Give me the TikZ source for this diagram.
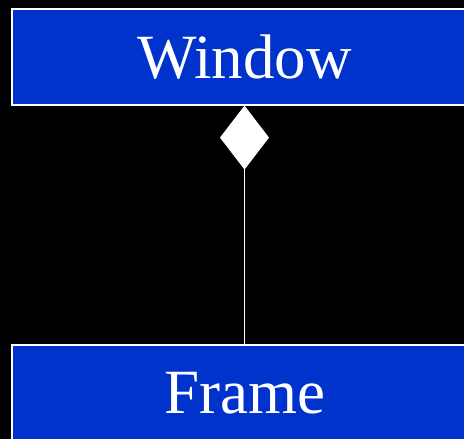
\documentclass[tikz,border=0pt]{standalone}
\usepackage{fontspec}
\setmainfont{Liberation Serif}
\usetikzlibrary{arrows.meta}
\definecolor{umlblue}{RGB}{0,51,204}
\tikzset{
  classbox/.style={draw=white, line width=1.2pt, fill=umlblue, text=white,
    minimum width=465pt, minimum height=96pt, inner sep=0pt,
    font=\fontsize{63}{63}\selectfont},
  composes/.style={draw=white, line width=1.2pt,
    {Diamond[width=49pt, length=64pt, fill=white]}-}
}
\begin{document}
\begin{tikzpicture}[x=1pt, y=-1pt]
\clip (0,0) rectangle (464,439);
\fill[black] (0,0) rectangle (464,439);
\node[classbox] (window) at (244.5,57) {Window};
\node[classbox] (frame) at (244.5,393) {Frame};
\draw[composes] (window) -- (frame);
\end{tikzpicture}
\end{document}
